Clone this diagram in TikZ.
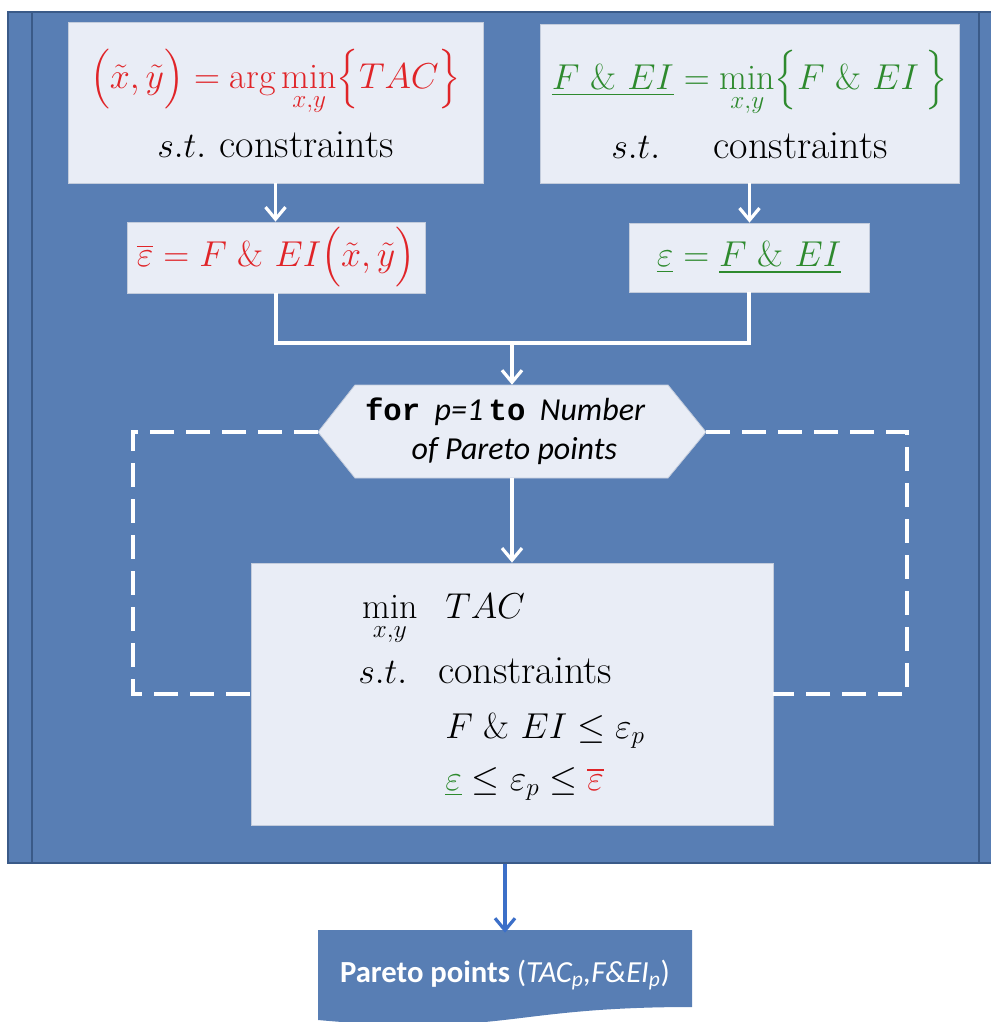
\RequirePackage{fix-cm}
\documentclass[tikz,border=0pt]{standalone}
\usepackage{amsmath}
\usepackage{fontspec}
\newfontfamily\calibri{Carlito}
\newfontfamily\couriermono{Liberation Mono}
\usetikzlibrary{arrows.meta}
\definecolor{bgblue}{HTML}{587EB4}
\definecolor{frameline}{HTML}{3A5A88}
\definecolor{boxfill}{HTML}{E9EDF6}
\definecolor{boxline}{HTML}{C3CCDC}
\definecolor{myred}{HTML}{E02428}
\definecolor{mygreen}{HTML}{2E8A2E}
\definecolor{arrowblue}{HTML}{3C6FC8}
\newcommand\cstrtext{{\fontsize{30}{36}\selectfont constraints}}
\tikzset{
  bigfont/.style={font=\fontsize{27}{33}\selectfont},
  box/.style={draw=boxline, line width=0.6pt, fill=boxfill, inner sep=0pt, align=center, bigfont},
  wline/.style={draw=white, line width=2.4pt},
  warrow/.style={wline, -{Straight Barb[length=9pt,width=15pt,line width=2.4pt]}},
  loopdash/.style={draw=white, line width=2.4pt, dash pattern=on 18pt off 9pt},
  rowtext/.style={anchor=base west, inner sep=0pt, bigfont},
}
\begin{document}
\begin{tikzpicture}[x=0.75pt,y=-0.75pt]
\useasboundingbox (0,0) rectangle (991,1022);
% frame (predefined process)
\node[draw=frameline, line width=0.8pt, fill=bgblue, minimum width=744pt, minimum height=638.25pt, inner sep=0pt] (frame) at (504,437.5) {};
\draw[frameline, line width=1.2pt] (32,12) -- (32,863);
\draw[frameline, line width=1.2pt] (979,12) -- (979,863);

% top boxes
\node[box, minimum width=311.25pt, minimum height=120.75pt] (box1) at (275.5,102.5)
  {{\color{myred}$\displaystyle \Bigl(\tilde{x},\tilde{y}\Bigr) = \arg\min_{x,y}\Bigl\{TAC\Bigr\}$}\\[11pt]
   $s.t.$\hspace{10pt}\cstrtext};
\node[box, minimum width=314.25pt, minimum height=119.25pt] (box2) at (749.5,103.5)
  {{\color{mygreen}$\displaystyle \underline{F\ \&\ EI} = \min_{x,y}\Bigl\{F\ \&\ EI\,\Bigr\}$}\\[11pt]
   $s.t.$\hspace{40pt}\cstrtext};
\node[box, minimum width=223.5pt, minimum height=53.25pt] (box3) at (276,257.5)
  {\color{myred}$\overline{\varepsilon} = F\ \&\ EI\Bigl(\tilde{x},\tilde{y}\Bigr)$};
\node[box, minimum width=180pt, minimum height=51.75pt] (box4) at (749,257.5)
  {\color{mygreen}$\underline{\varepsilon} = \underline{F\ \&\ EI}$};

\draw[warrow] (box1.south) -- (box1.south |- box3.north);
\draw[warrow] (box2.south) -- (box2.south |- box4.north);

% hexagon
\coordinate (hexL) at (318,432);
\coordinate (hexR) at (706,432);
\filldraw[fill=boxfill, draw=boxline, line width=0.6pt]
  (hexL) -- (355,385) -- (668,385) -- (hexR) -- (668,478) -- (355,478) -- cycle;
\node[inner sep=0pt, minimum width=234.75pt, minimum height=69.75pt, align=center,
      font=\fontsize{24}{29}\selectfont\calibri] (hex) at (505,431.5)
  {{\couriermono\fontsize{23}{29}\selectfont\bfseries for}\ \ {\itshape p=1}\,{\couriermono\fontsize{23}{29}\selectfont\bfseries to}\ \ {\itshape Number}\\
   \hspace*{14pt}{\itshape of Pareto points}};

\coordinate (join) at (512,343);
\draw[wline] (box3.south) |- (join) -| (box4.south);
\draw[warrow] (join) -- (join |- hex.north);

% main box
\node[box, minimum width=391.5pt, minimum height=196.5pt] (box5) at (512,694) {};
\draw[warrow] (join |- hex.south) -- (join |- box5.north);

\coordinate (loopL) at (133,694);
\coordinate (loopR) at (907,694);
\draw[loopdash] (hexL) -| (loopL) -- (box5.west);
\draw[loopdash] (hexR) -| (loopR) -- (box5.east);

\node[rowtext] (r1) at (362,618) {\makebox[62.25pt][l]{$\displaystyle\min_{x,y}$}$TAC$};
\node[rowtext] (r2) at (358,683) {\makebox[60pt][l]{$s.t.$}\cstrtext};
\node[rowtext] (r3) at (445,738) {$F\ \&\ EI \le \varepsilon_p$};
\node[rowtext] (r4) at (445,790) {${\color{mygreen}\underline{\varepsilon}} \le \varepsilon_p \le {\color{myred}\overline{\varepsilon}}$};

% output document
\fill[bgblue] (318,930) -- (692,930) -- (692,1007)
  .. controls (505,1007) and (505,1037) .. (318,1020) -- cycle;
\node[inner sep=0pt, minimum width=280.5pt, minimum height=63pt, text=white,
      font=\fontsize{23}{27}\selectfont\calibri] (doc) at (505,975)
  {{\bfseries Pareto points} (\textit{TAC\textsubscript{p},F\&EI\textsubscript{p}})};
\draw[arrowblue, line width=2.4pt, -{Straight Barb[length=9pt,width=15pt,line width=2.4pt]}]
  (frame.south -| doc.north) -- (doc.north);
\end{tikzpicture}
\end{document}
